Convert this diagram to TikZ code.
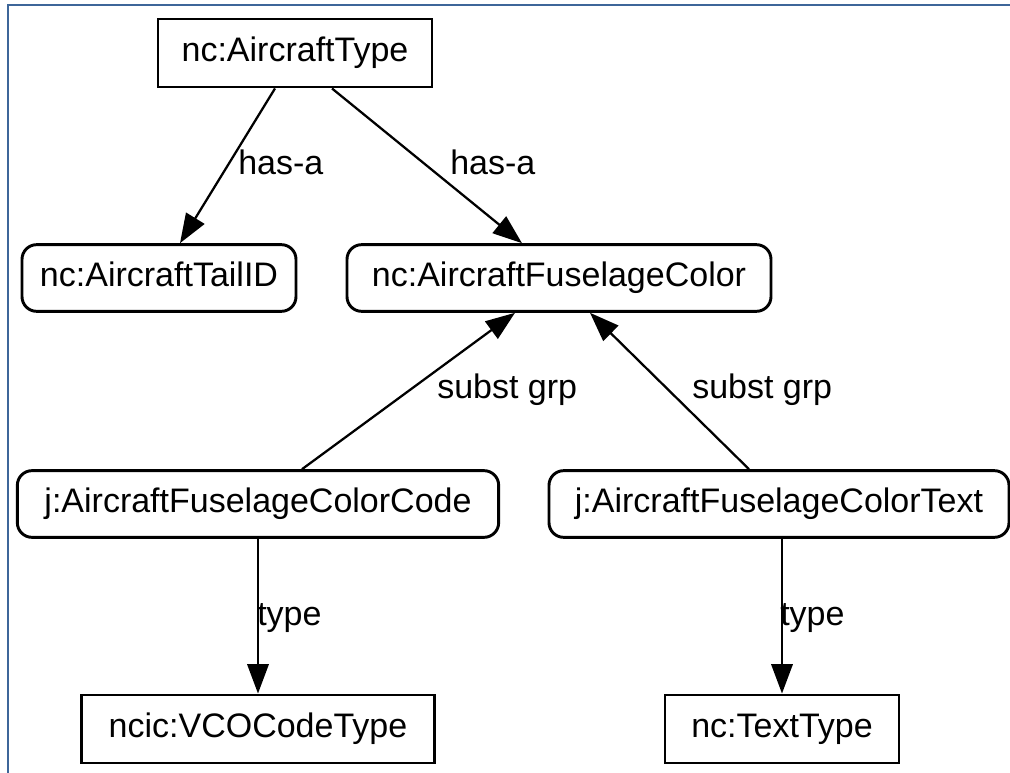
\documentclass[tikz,border=0pt]{standalone}
\usepackage{fontspec}
\setmainfont{Liberation Sans}
\usetikzlibrary{arrows.meta}

\definecolor{frameblue}{RGB}{61,102,153}

\begin{document}
\begin{tikzpicture}[x=0.75pt, y=-0.75pt,
  every node/.style={font=\fontsize{25.5}{30}\selectfont},
  box/.style={draw, line width=2.2pt, inner sep=0pt, text height=18pt, text depth=5pt},
  typebox/.style={box, minimum height=51pt},
  elembox/.style={box, rounded corners=11pt, minimum height=50pt},
  link/.style={line width=1.7pt, -{Triangle[length=22pt,width=16pt]}},
  lbl/.style={anchor=base west, inner sep=0pt}]

  \useasboundingbox (0,0) rectangle (1010,773);

  % window frame of the screenshot
  \draw[frameblue, line width=1.5pt] (1010,5) -- (8,5) -- (8,773);

  % schema components
  \node[typebox, minimum width=205.5pt] (actype) at (295,53) {nc:AircraftType};
  \node[elembox, minimum width=205.5pt] (tailid) at (159,278) {nc:AircraftTailID};
  \node[elembox, minimum width=318pt] (fcolor) at (559,278) {nc:AircraftFuselageColor};
  \node[elembox, minimum width=361pt] (fccode) at (258,504) {j:AircraftFuselageColorCode};
  \node[elembox, minimum width=345pt] (fctext) at (779,504) {j:AircraftFuselageColorText};
  \node[typebox, minimum width=265pt] (vcotype) at (258,729) {ncic:VCOCodeType};
  \node[typebox, minimum width=175.5pt] (texttype) at (782,729) {nc:TextType};

  % relations
  \draw[link] ([xshift=-15pt]actype.south) -- ([xshift=15.75pt]tailid.north);
  \draw[link] ([xshift=27.75pt]actype.south) -- ([xshift=-27.75pt]fcolor.north);
  \draw[link] ([xshift=33pt]fccode.north) -- ([xshift=-33pt]fcolor.south);
  \draw[link] ([xshift=-22.5pt]fctext.north) -- ([xshift=23.25pt]fcolor.south);
  \draw[link] (fccode) -- (vcotype);
  \draw[link] (texttype.north |- fctext.south) -- (texttype.north);

  % relation labels
  \node[lbl] (hasa1) at (238,175) {has-a};
  \node[lbl] (hasa2) at (450,175) {has-a};
  \node[lbl] (subst1) at (437,399) {subst grp};
  \node[lbl] (subst2) at (692,399) {subst grp};
  \node[lbl] (type1) at (257,625) {type};
  \node[lbl] (type2) at (780,625) {type};
\end{tikzpicture}
\end{document}
